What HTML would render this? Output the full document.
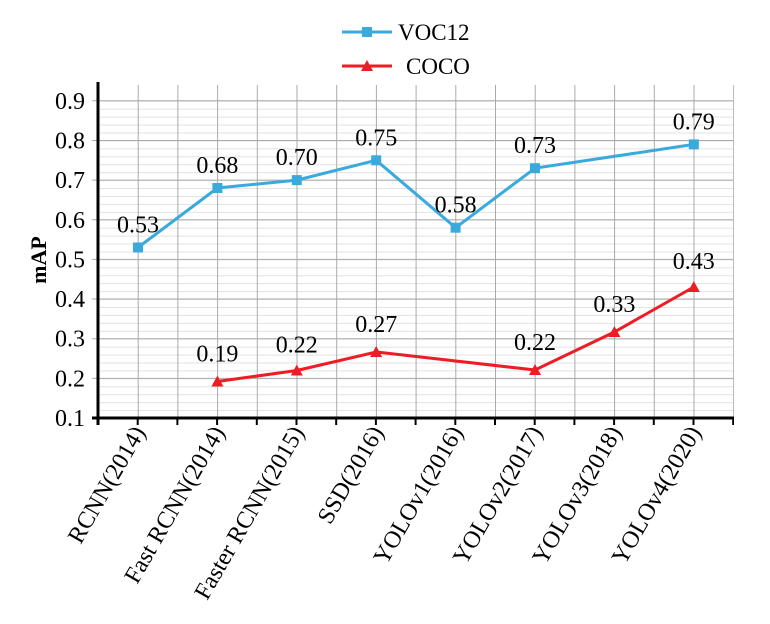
<!DOCTYPE html><html><head><style>body{margin:0;background:#fff}</style></head><body>
<svg width="770" height="619" xmlns="http://www.w3.org/2000/svg" font-family="Liberation Serif, serif">
<defs>
<pattern id="mh" patternUnits="userSpaceOnUse" x="0" y="100.8" width="10" height="7.93"><line x1="0" x2="10" y1="0.5" y2="0.5" stroke="#e2e2e2" stroke-width="1"/></pattern>
<pattern id="vg" patternUnits="userSpaceOnUse" x="98" y="0" width="39.7" height="10"><line x1="0.5" x2="0.5" y1="0" y2="10" stroke="#aaa" stroke-width="1"/></pattern>
<pattern id="tk" patternUnits="userSpaceOnUse" x="97" y="0" width="39.7" height="10"><line x1="1" x2="1" y1="0" y2="10" stroke="#000" stroke-width="2"/></pattern>
</defs>
<rect x="98" y="100.8" width="635" height="317" fill="url(#mh)"/>
<g stroke="#aaa" stroke-width="1">
<line x1="92" x2="733" y1="378.4" y2="378.4"/><line x1="92" x2="733" y1="338.7" y2="338.7"/><line x1="92" x2="733" y1="299" y2="299"/><line x1="92" x2="733" y1="259.4" y2="259.4"/><line x1="92" x2="733" y1="219.8" y2="219.8"/><line x1="92" x2="733" y1="180.1" y2="180.1"/><line x1="92" x2="733" y1="140.5" y2="140.5"/><line x1="92" x2="733" y1="100.8" y2="100.8"/>
</g>
<rect x="137" y="85" width="597" height="333" fill="url(#vg)"/>
<rect x="136" y="418" width="598" height="7" fill="url(#tk)"/>
<line x1="98" x2="98" y1="82" y2="425" stroke="#000" stroke-width="3"/>
<line x1="92" x2="734" y1="418" y2="418" stroke="#000" stroke-width="3"/>
<g font-size="24" text-anchor="end">
<text x="85" y="426">0.1</text><text x="85" y="386.4">0.2</text><text x="85" y="346.7">0.3</text><text x="85" y="307">0.4</text><text x="85" y="267.4">0.5</text><text x="85" y="227.8">0.6</text><text x="85" y="188.1">0.7</text><text x="85" y="148.5">0.8</text><text x="85" y="108.8">0.9</text>
<text transform="translate(146,432) rotate(-60)">RCNN(2014)</text>
<text transform="translate(225.4,432) rotate(-60)">Fast RCNN(2014)</text>
<text transform="translate(304.8,432) rotate(-60)">Faster RCNN(2015)</text>
<text transform="translate(384.2,432) rotate(-60)">SSD(2016)</text>
<text transform="translate(463.6,432) rotate(-60)">YOLOv1(2016)</text>
<text transform="translate(543,432) rotate(-60)">YOLOv2(2017)</text>
<text transform="translate(622.4,432) rotate(-60)">YOLOv3(2018)</text>
<text transform="translate(701.8,432) rotate(-60)">YOLOv4(2020)</text>
</g>
<text transform="translate(46,260) rotate(-90)" font-size="22" font-weight="bold" text-anchor="middle">mAP</text>
<polyline points="138,247.5 217.4,188 296.8,180.1 376.2,160.3 455.6,227.7 535,168.2 693.8,144.4" fill="none" stroke="#3aaadc" stroke-width="3"/>
<g fill="#3aaadc">
<rect x="133" y="242.5" width="10" height="10"/><rect x="212.4" y="183" width="10" height="10"/><rect x="291.8" y="175.1" width="10" height="10"/><rect x="371.2" y="155.3" width="10" height="10"/><rect x="450.6" y="222.7" width="10" height="10"/><rect x="530" y="163.2" width="10" height="10"/><rect x="688.8" y="139.4" width="10" height="10"/>
</g>
<g font-size="24" text-anchor="middle">
<text x="138" y="232.5">0.53</text><text x="217.4" y="173">0.68</text><text x="296.8" y="165">0.70</text><text x="376.2" y="145.3">0.75</text><text x="455.6" y="212.7">0.58</text><text x="535" y="153.2">0.73</text><text x="693.8" y="129.4">0.79</text>
<text x="217.4" y="361.5">0.19</text><text x="296.8" y="352.5">0.22</text><text x="376.2" y="332">0.27</text><text x="535" y="350">0.22</text><text x="614.4" y="312">0.33</text><text x="693.8" y="269">0.43</text>
</g>
<polyline points="217.4,381.5 296.8,370.5 376.2,352 535,370 614.4,332 693.8,287" fill="none" stroke="#ee1c25" stroke-width="3"/>
<g fill="#ee1c25">
<polygon points="211.4,386.5 223.4,386.5 217.4,375.5"/><polygon points="290.8,375.5 302.8,375.5 296.8,364.5"/><polygon points="370.2,357 382.2,357 376.2,346"/><polygon points="529,375 541,375 535,364"/><polygon points="608.4,337 620.4,337 614.4,326"/><polygon points="687.8,292 699.8,292 693.8,281"/>
</g>
<line x1="342" x2="392" y1="32" y2="32" stroke="#3aaadc" stroke-width="3"/><rect x="362" y="27" width="10" height="10" fill="#3aaadc"/><text x="398" y="40" font-size="23">VOC12</text>
<line x1="342" x2="392" y1="66" y2="66" stroke="#ee1c25" stroke-width="3"/><polygon points="361,71 373,71 367,60" fill="#ee1c25"/><text x="406" y="74" font-size="23">COCO</text>
</svg></body></html>
